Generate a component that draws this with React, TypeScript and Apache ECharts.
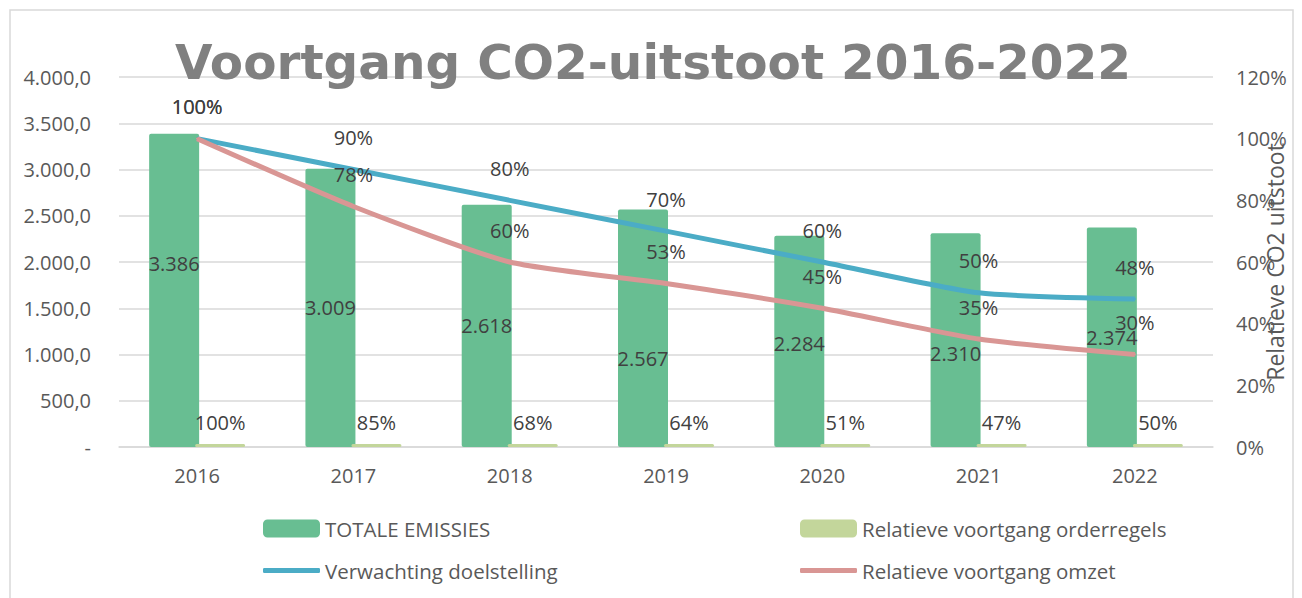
import React, { useEffect, useRef } from "react";
import * as echarts from "echarts";

const years = ["2016", "2017", "2018", "2019", "2020", "2021", "2022"];
const totaleEmissies = [3386, 3009, 2618, 2567, 2284, 2310, 2374];
const orderregels = [1.0, 0.85, 0.68, 0.64, 0.51, 0.47, 0.5];
const doelstelling = [1.0, 0.9, 0.8, 0.7, 0.6, 0.5, 0.48];
const omzet = [1.0, 0.78, 0.6, 0.53, 0.45, 0.35, 0.3];

// label nudges (styling only)
const emissieLabelOffsets = [-27, 0, 0, 30, 2, 13, 0];

const FONT = "Open Sans";
const GREEN = "#68BE92";
const LIGHT = "#C3D69B";
const BLUE = "#4BACC6";
const RED = "#D99694";

function nl(v: number): string {
  return Math.round(v)
    .toString()
    .replace(/\B(?=(\d{3})+(?!\d))/g, ".");
}
function pct(v: number): string {
  return Math.round(v * 100) + "%";
}

export default function App() {
  const ref = useRef<HTMLDivElement>(null);
  useEffect(() => {
    if (!ref.current) return;
    const chart = echarts.init(ref.current, null, { renderer: "svg" });
    const labelStyle = { fontFamily: FONT, fontSize: 20, color: "#404040" };
    const legendText = { fontFamily: FONT, fontSize: 20.5, color: "#595959" };
    chart.setOption({
      animation: false,
      backgroundColor: "#fff",
      title: {
        text: "Voortgang CO2-uitstoot 2016-2022",
        left: 648,
        top: 57,
        textAlign: "center",
        textVerticalAlign: "middle",
        textStyle: {
          fontFamily: "DejaVu Sans",
          fontWeight: "bold",
          fontSize: 48.5,
          color: "#808080",
        },
      },
      graphic: [
        {
          type: "rect",
          shape: { x: 10, y: 10, width: 1283, height: 600 },
          style: { fill: "none", stroke: "#D9D9D9", lineWidth: 1.5 },
          silent: true,
          z: -10,
        },
      ],
      legend: [
        {
          left: 263, top: 518, itemWidth: 57, itemHeight: 18, padding: 0,
          data: [{ name: "TOTALE EMISSIES", icon: "roundRect" }],
          textStyle: legendText, selectedMode: false,
        },
        {
          left: 263, top: 560, itemWidth: 57, itemHeight: 5, padding: 0,
          data: [{ name: "Verwachting doelstelling", icon: "roundRect" }],
          textStyle: legendText, selectedMode: false,
        },
        {
          left: 800, top: 518, itemWidth: 57, itemHeight: 18, padding: 0,
          data: [{ name: "Relatieve voortgang orderregels", icon: "roundRect" }],
          textStyle: legendText, selectedMode: false,
        },
        {
          left: 800, top: 560, itemWidth: 57, itemHeight: 5, padding: 0,
          data: [{ name: "Relatieve voortgang omzet", icon: "roundRect" }],
          textStyle: legendText, selectedMode: false,
        },
      ],
      grid: {
        left: 119,
        right: 89,
        top: 77,
        bottom: 151,
        containLabel: false,
        outerBoundsMode: "none",
      },
      xAxis: {
        type: "category",
        data: years,
        axisTick: { show: false },
        axisLine: { lineStyle: { color: "#D9D9D9", width: 1.5 } },
        axisLabel: { fontFamily: FONT, fontSize: 20, color: "#595959", margin: 18 },
      },
      yAxis: [
        {
          type: "value",
          min: 0,
          max: 4000,
          interval: 500,
          axisLine: { show: false },
          axisTick: { show: false },
          splitLine: { lineStyle: { color: "#D9D9D9", width: 1.5 } },
          axisLabel: {
            fontFamily: FONT, fontSize: 20, color: "#595959", margin: 28,
            formatter: (v: number) => (v === 0 ? "-" : nl(v) + ",0"),
          },
        },
        {
          type: "value",
          min: 0,
          max: 1.2,
          interval: 0.2,
          axisLine: { show: false },
          axisTick: { show: false },
          splitLine: { show: false },
          axisLabel: {
            fontFamily: FONT, fontSize: 20, color: "#595959", margin: 23,
            formatter: (v: number) => pct(v),
          },
          name: "Relatieve CO2 uitstoot",
          nameLocation: "middle",
          nameRotate: 90,
          nameGap: 50,
          nameMoveOverlap: false,
          nameTextStyle: { fontFamily: FONT, fontSize: 23, color: "#595959" },
        },
      ],
      series: [
        {
          name: "TOTALE EMISSIES",
          type: "bar",
          yAxisIndex: 0,
          barWidth: 50,
          barGap: "-8%",
          itemStyle: { color: GREEN, borderRadius: 2 },
          data: totaleEmissies.map((v, i) => ({
            value: v,
            label: { offset: [0, emissieLabelOffsets[i]] },
          })),
          label: {
            show: true,
            position: "inside",
            ...labelStyle,
            formatter: (p: any) => nl(p.value),
          },
        },
        {
          name: "Relatieve voortgang orderregels",
          type: "bar",
          yAxisIndex: 0,
          barWidth: 50,
          barMinHeight: 3,
          itemStyle: { color: LIGHT, borderRadius: 2 },
          data: orderregels,
          label: {
            show: true,
            position: "top",
            distance: 12,
            ...labelStyle,
            formatter: (p: any) => pct(p.value),
          },
        },
        {
          name: "Verwachting doelstelling",
          type: "line",
          yAxisIndex: 1,
          data: doelstelling,
          smooth: 0.2,
          symbol: "circle",
          symbolSize: 2,
          showSymbol: true,
          lineStyle: { color: BLUE, width: 5 },
          itemStyle: { color: BLUE },
          label: {
            show: true,
            position: "top",
            distance: 21,
            ...labelStyle,
            formatter: (p: any) => pct(p.value),
          },
          labelLayout: { hideOverlap: false },
          z: 3,
        },
        {
          name: "Relatieve voortgang omzet",
          type: "line",
          yAxisIndex: 1,
          data: omzet,
          smooth: 0.2,
          symbol: "circle",
          symbolSize: 2,
          showSymbol: true,
          lineStyle: { color: RED, width: 5 },
          itemStyle: { color: RED },
          label: {
            show: true,
            position: "top",
            distance: 21,
            ...labelStyle,
            formatter: (p: any) => pct(p.value),
          },
          labelLayout: { hideOverlap: false },
          z: 4,
        },
      ],
    });
    return () => chart.dispose();
  }, []);
  return (
    <div
      ref={ref}
      style={{ position: "absolute", left: 0, top: 0, width: 1302, height: 598 }}
    />
  );
}
